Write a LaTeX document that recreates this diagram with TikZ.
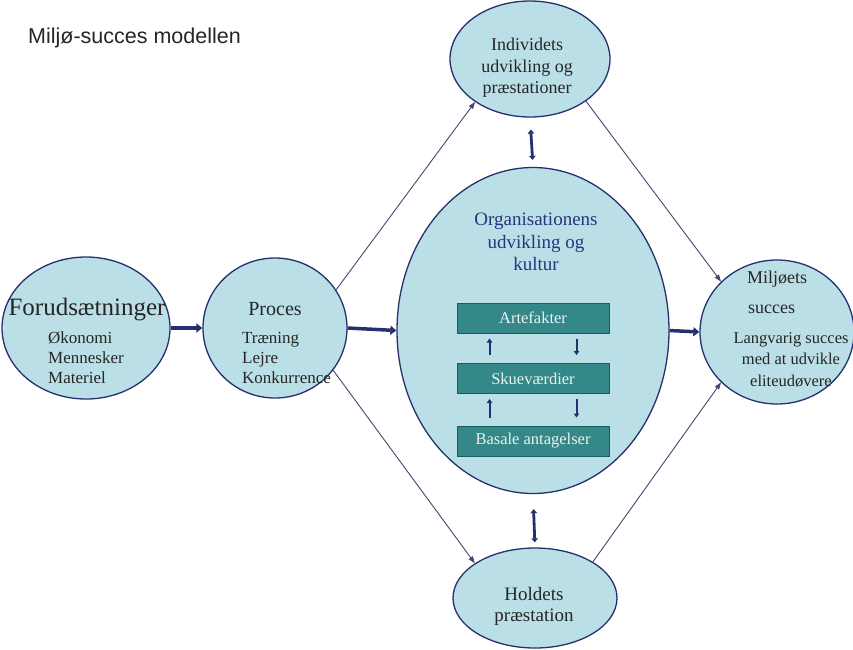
\documentclass[tikz,border=0pt]{standalone}
\usepackage{fontspec}
\setmainfont{Liberation Serif}
\newfontfamily\titlefont{Liberation Sans}
\usetikzlibrary{shapes.geometric,arrows.meta,calc}
\definecolor{fillblue}{RGB}{187,223,230}
\definecolor{navy}{RGB}{38,48,112}
\definecolor{tealbox}{RGB}{52,136,136}
\definecolor{tealedge}{RGB}{28,90,96}
\definecolor{thinline}{RGB}{70,72,115}
\definecolor{orgtext}{RGB}{40,52,125}
\definecolor{boxtext}{RGB}{235,242,242}
\begin{document}
\begin{tikzpicture}[x=1pt,y=-1pt,
  oval/.style={ellipse, draw=navy, line width=1.3pt, fill=fillblue, inner sep=0pt},
  layerbox/.style={draw=tealedge, line width=1pt, fill=tealbox, inner sep=0pt,
     minimum width=152pt, minimum height=30pt, text=boxtext,
     font=\fontsize{16.5}{19}\selectfont},
  txt/.style={anchor=base, inner sep=0pt, text=black!85},
  txtl/.style={anchor=base west, inner sep=0pt, text=black!85},
  bigarrow/.style={line width=3.5pt, draw=navy, -{Triangle[length=6pt,width=9pt]}},
  dblarrow/.style={line width=2.8pt, draw=navy, {Triangle[length=4pt,width=6.5pt]}-{Triangle[length=4pt,width=6.5pt]}},
  smallarr/.style={line width=2pt, draw=navy, -{Triangle[length=4pt,width=5.5pt]}},
  thinarr/.style={line width=0.9pt, draw=thinline, -{Triangle[length=7pt,width=5pt]}}
]
\fill[white] (0,0) rectangle (853,649);
\useasboundingbox (0,0) rectangle (853,649);

% title
\node[anchor=base west, inner sep=0pt, font=\titlefont\fontsize{21.5}{25}\selectfont, text=black!85] (title) at (28,43) {Miljø-succes modellen};

% ovals
\node[oval, minimum width=168pt, minimum height=142pt] (forud) at (86,328) {};
\node[oval, minimum width=144pt, minimum height=140pt] (proc) at (275,328) {};
\node[oval, minimum width=272pt, minimum height=326pt] (org) at (533,330.5) {};
\node[oval, minimum width=160pt, minimum height=116pt] (ind) at (530,59) {};
\node[oval, minimum width=164pt, minimum height=100pt] (hold) at (535,598) {};
\node[oval, minimum width=154pt, minimum height=144pt] (milj) at (777,332) {};

% texts: Forudsaetninger
\node[txt, font=\fontsize{25}{28}\selectfont] (forudH) at (87,315) {Forudsætninger};
\node[txtl, font=\fontsize{17}{20}\selectfont] (forud1) at (48,343) {Økonomi};
\node[txtl, font=\fontsize{17}{20}\selectfont] (forud2) at (48,363) {Mennesker};
\node[txtl, font=\fontsize{17}{20}\selectfont] (forud3) at (48,383) {Materiel};

% Proces
\node[txt, font=\fontsize{20}{24}\selectfont] (procH) at (275,315) {Proces};
\node[txtl, font=\fontsize{17}{20}\selectfont] (proc1) at (242,343) {Træning};
\node[txtl, font=\fontsize{17}{20}\selectfont] (proc2) at (242,363) {Lejre};
\node[txtl, font=\fontsize{17}{20}\selectfont] (proc3) at (242,383) {Konkurrence};

% Individets
\node[txt, font=\fontsize{18}{21}\selectfont] (ind1) at (527,50) {Individets};
\node[txt, font=\fontsize{18}{21}\selectfont] (ind2) at (527,72) {udvikling og};
\node[txt, font=\fontsize{18}{21}\selectfont] (ind3) at (527,93) {præstationer};

% Holdets
\node[txt, font=\fontsize{19}{22}\selectfont] (hold1) at (534,600) {Holdets};
\node[txt, font=\fontsize{19}{22}\selectfont] (hold2) at (534,621) {præstation};

% Miljoets
\node[txtl, font=\fontsize{18}{21}\selectfont] (milj1) at (747,283) {Miljøets};
\node[txtl, font=\fontsize{18}{21}\selectfont] (milj2) at (748,313) {succes};
\node[txt, font=\fontsize{16.5}{19}\selectfont] (milj3) at (791,343) {Langvarig succes};
\node[txt, font=\fontsize{16.5}{19}\selectfont] (milj4) at (791,364) {med at udvikle};
\node[txt, font=\fontsize{16.5}{19}\selectfont] (milj5) at (791,386) {eliteudøvere};

% Organisationens
\node[txt, text=orgtext, font=\fontsize{19}{22}\selectfont] (org1) at (536,225) {Organisationens};
\node[txt, text=orgtext, font=\fontsize{19}{22}\selectfont] (org2) at (536,248) {udvikling og};
\node[txt, text=orgtext, font=\fontsize{19}{22}\selectfont] (org3) at (536,270) {kultur};

% layer boxes
\node[layerbox] (art) at (533,318) {Artefakter};
\node[layerbox] (skue) at (533,378.5) {Skueværdier};
\node[layerbox] (bas) at (533,441) {Basale antagelser};

% small arrows between boxes
\draw[smallarr, shorten <=8pt, shorten >=5pt] ([xshift=33pt]skue.north west) -- ([xshift=33pt]art.south west);
\draw[smallarr, shorten <=5pt, shorten >=8pt] ([xshift=-33pt]art.south east) -- ([xshift=-33pt]skue.north east);
\draw[smallarr, shorten <=8pt, shorten >=5pt] ([xshift=33pt]bas.north west) -- ([xshift=33pt]skue.south west);
\draw[smallarr, shorten <=5pt, shorten >=8pt] ([xshift=-33pt]skue.south east) -- ([xshift=-33pt]bas.north east);

% thick arrows
\draw[bigarrow] (forud.east) -- (proc.west);
\draw[bigarrow] (proc.east) -- (org.west);
\draw[bigarrow] (org.east) -- (milj.west);

% double arrows
\draw[dblarrow, shorten <=12pt, shorten >=7pt] (ind.south) -- (org.north);
\draw[dblarrow, shorten <=15pt, shorten >=5pt] (org.south) -- (hold.north);

% thin arrows
\draw[thinarr] (proc.32) -- (ind.218);
\draw[thinarr] (proc.-36) -- (hold.150);
\draw[thinarr] (ind.-37) -- (milj.138);
\draw[thinarr] (hold.32) -- (milj.222);
\end{tikzpicture}
\end{document}
